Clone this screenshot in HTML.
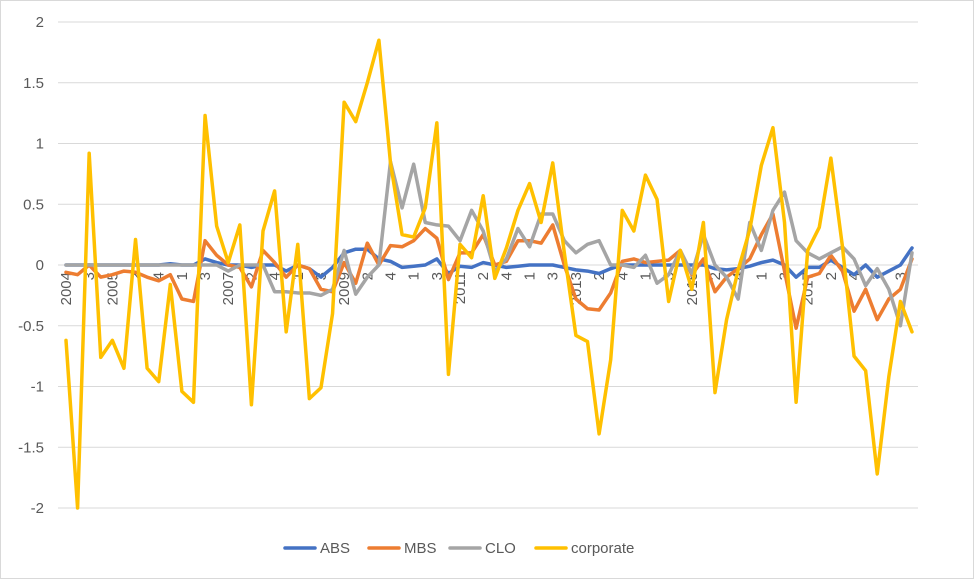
<!DOCTYPE html>
<html><head><meta charset="utf-8"><style>
body{margin:0;background:#fff;font-family:"Liberation Sans",sans-serif}
svg text{font-family:"Liberation Sans",sans-serif;fill:#595959}
</style></head><body>
<svg id="c" width="974" height="579">
<rect x="0.5" y="0.5" width="973" height="578" fill="#fff" stroke="#d9d9d9"/>
<g id="grid"></g><g id="ylab"></g><g id="xlab"></g><g id="lines"></g><g id="legend"></g>
</svg>
<script>
const categories=["2004","","3","","2005","","2","","4","","1","","3","","2007","","2","","4","","1","","3","","2009","","2","","4","","1","","3","","2011","","2","","4","","1","","3","","2013","","2","","4","","1","","3","","2015","","2","","4","","1","","3","","2017","","2","","4","","1","","3",""];
const yTicks=[2,1.5,1,0.5,0,-0.5,-1,-1.5,-2];
const seriesNames=["ABS","MBS","CLO","corporate"];
const absValues=[0,0,0,0,0,0,0,0,0,0.01,0,0,0.05,0.02,0,0,-0.02,0,0,-0.05,0,-0.03,-0.1,-0.02,0.1,0.13,0.13,0.05,0.03,-0.02,-0.01,0,0.05,-0.07,-0.01,-0.02,0.02,0,-0.02,-0.01,0,0,0,-0.02,-0.04,-0.05,-0.07,-0.03,0,0,0,0,0,0,0,0,-0.03,-0.04,-0.03,-0.01,0.02,0.04,0,-0.1,-0.02,-0.02,0.04,-0.02,-0.08,0,-0.1,-0.05,0,0.14];
const mbsValues=[-0.06,-0.08,0,-0.1,-0.08,-0.05,-0.06,-0.1,-0.13,-0.08,-0.28,-0.3,0.2,0.08,0,-0.02,-0.18,0.12,0.02,-0.1,0,-0.03,-0.2,-0.22,0.02,-0.15,0.18,0,0.16,0.15,0.2,0.3,0.22,-0.12,0.1,0.1,0.25,0,0.03,0.2,0.2,0.18,0.33,0,-0.28,-0.36,-0.37,-0.23,0.03,0.05,0.02,0.03,0.04,0.12,-0.08,0.05,-0.22,-0.1,-0.03,0.05,0.25,0.42,-0.05,-0.52,-0.1,-0.07,0.08,-0.05,-0.38,-0.2,-0.45,-0.28,-0.2,0.05];
const cloValues=[0,0,0,0,0,0,0,0,0,0,0,0,0,0,-0.05,0,0,0,-0.22,-0.22,-0.23,-0.23,-0.25,-0.2,0.12,-0.24,-0.1,0,0.85,0.47,0.83,0.35,0.33,0.32,0.2,0.45,0.28,-0.05,0.05,0.3,0.15,0.42,0.42,0.2,0.1,0.17,0.2,0,0,-0.02,0.08,-0.15,-0.08,0.12,-0.07,0.25,0,-0.1,-0.28,0.35,0.12,0.45,0.6,0.2,0.1,0.05,0.1,0.15,0.05,-0.17,-0.03,-0.2,-0.5,0.1];
const corporateValues=[-0.62,-2.0,0.92,-0.76,-0.62,-0.85,0.21,-0.85,-0.96,-0.16,-1.04,-1.13,1.23,0.32,0.02,0.33,-1.15,0.28,0.61,-0.55,0.17,-1.1,-1.01,-0.4,1.34,1.18,1.5,1.85,0.84,0.25,0.23,0.47,1.17,-0.9,0.17,0.06,0.57,-0.11,0.14,0.45,0.67,0.35,0.84,0.1,-0.58,-0.63,-1.39,-0.78,0.45,0.28,0.74,0.54,-0.3,0.12,-0.2,0.35,-1.05,-0.45,-0.04,0.29,0.82,1.13,0.35,-1.13,0.12,0.31,0.88,0.15,-0.75,-0.87,-1.72,-0.92,-0.3,-0.55];
const colors=["#4472c4","#ed7d31","#a5a5a5","#ffc000"];
const ns="http://www.w3.org/2000/svg";
const x0=66,x1=912,yTop=22,yBot=508,yMax=2,yMin=-2;
const xs=i=>x0+i*(x1-x0)/(categories.length-1);
const ys=v=>yTop+(yMax-v)*(yBot-yTop)/(yMax-yMin);
function mk(t,a,p){const e=document.createElementNS(ns,t);for(const k in a)e.setAttribute(k,a[k]);p.appendChild(e);return e;}
const G=document.getElementById('grid'),YL=document.getElementById('ylab'),XL=document.getElementById('xlab'),L=document.getElementById('lines'),LG=document.getElementById('legend');
yTicks.forEach(t=>{
 const l=mk('line',{x1:58,x2:918,y1:ys(t),y2:ys(t),stroke:'#d9d9d9','stroke-width':1},G);
 
 
 const tx=mk('text',{x:44,y:ys(t)+5,'text-anchor':'end','font-size':15},YL);
 tx.textContent=String(t);
 
 
});
categories.forEach((c,i)=>{
 if(!c)return;
 const x=xs(i),y=272;
 const tx=mk('text',{x:x+5,y:y,'text-anchor':'end','font-size':15,transform:`rotate(-90 ${x+5} ${y})`},XL);
 tx.textContent=c;
 
 
});
[absValues,mbsValues,cloValues,corporateValues].forEach((vals,s)=>{
 const p=mk('polyline',{points:vals.map((v,i)=>xs(i)+','+ys(v)).join(' '),fill:'none',stroke:colors[s],'stroke-width':3.5,'stroke-linejoin':'round','stroke-linecap':'round'},L);
 
 
});
const lx=[285,369,450,536];
seriesNames.forEach((n,s)=>{
 const g=mk('g',{},LG);
 
 
 mk('line',{x1:lx[s],x2:lx[s]+30,y1:548,y2:548,stroke:colors[s],'stroke-width':3.5,'stroke-linecap':'round'},g);
 const t=mk('text',{x:lx[s]+35,y:553,'font-size':15},g);
 t.textContent=n;
});
</script>
</body></html>
